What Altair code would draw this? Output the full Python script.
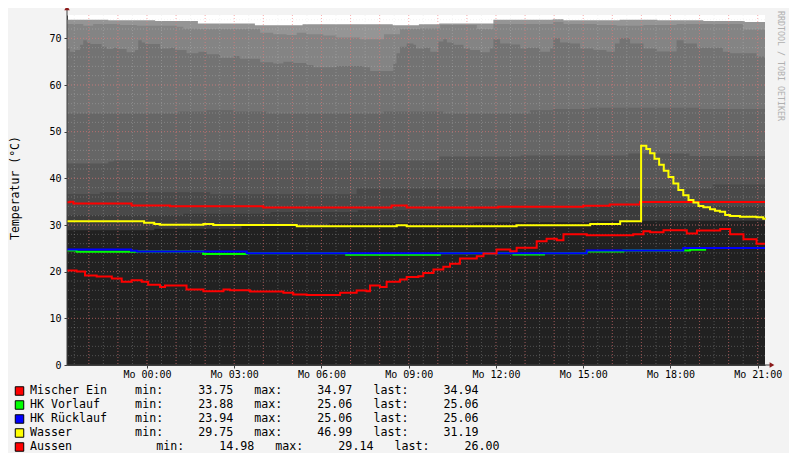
import altair as alt
import pandas as pd

# window: Sun 21:15 -> Mon 21:15 ; hours below are counted from the window start
START = -2.75  # window start relative to Mon 00:00 (hours)

# ---------------- lines (change points) ----------------
mischer_h = [0, 0.1, 0.22, 2.22, 3.54, 6.75, 11.16, 11.68, 14.83, 17.75, 18.66, 19.7, 24]
mischer_v = [34.88, 34.97, 34.6, 34.17, 34.03, 33.75, 34.17, 33.75, 33.9, 34.1, 34.4, 34.94, 34.94]

vor_h = [0, 0.33, 2.4, 4.68, 6.18, 9.6, 12.82, 15.35, 16.4, 17.87, 19.13, 21.42, 21.94, 24]
vor_v = [24.53, 24.25, 24.31, 23.81, 23.94, 23.6, 23.94, 23.7, 23.94, 24.3, 24.53, 24.67, 25.06, 25.06]

rueck_h = [0, 2.2, 2.4, 6.18, 17.87, 21.19, 24]
rueck_v = [24.75, 24.5, 24.31, 23.94, 24.53, 25.06, 25.06]

wasser_h = [0, 2.65, 3.0, 3.2, 4.69, 5.03, 7.9, 11.34, 11.68, 15.46, 17.99, 19.02,
            19.74, 19.92, 20.05, 20.2, 20.36, 20.52, 20.68, 20.85, 21.02, 21.19, 21.37,
            21.54, 21.71, 21.88, 22.11, 22.28, 22.45, 22.63, 22.8, 23.14, 23.71, 23.94, 24.0]
wasser_v = [30.8, 30.5, 30.2, 30.05, 30.2, 30.0, 29.75, 29.95, 29.75, 29.95, 30.2, 30.8,
            46.99, 46.3, 45.4, 44.2, 42.9, 41.6, 40.3, 38.9, 37.5, 36.4, 35.36,
            34.8, 34.07, 33.8, 33.35, 33.07, 32.85, 32.14, 31.93, 31.78, 31.64, 31.36, 31.19]

aussen_h = [0, 0.33, 0.62, 1.02, 1.54, 1.88, 2.22, 2.57, 2.79, 3.2,
            3.37, 4.11, 4.69, 5.38, 5.6, 6.29, 7.44, 7.78, 8.24, 9.39,
            9.96, 10.3, 10.42, 10.76, 10.99, 11.45, 11.68, 12.08, 12.25, 12.6,
            12.94, 13.17, 13.51, 14.09, 14.32, 14.77, 15.24, 15.46, 16.15, 16.49,
            16.84, 17.07, 17.87, 19.47, 19.82, 20.05, 20.51, 21.31, 21.66, 22.46,
            22.8, 23.26, 23.71, 24]
aussen_v = [20.24, 20.03, 19.17, 18.96, 18.53, 17.82, 18.17, 17.82, 17.17, 16.74,
            17.03, 16.17, 15.81, 16.17, 16.03, 15.74, 15.46, 15.1, 14.98, 15.46,
            15.96, 15.81, 17.03, 16.74, 17.82, 18.31, 18.88, 19.02, 19.74, 20.46,
            21.03, 21.67, 22.81, 23.31, 23.88, 24.74, 24.38, 25.1, 26.53, 27.03,
            26.75, 28.0, 27.8, 28.0, 28.67, 28.46, 28.88, 28.17, 28.81, 29.14,
            28.0, 26.96, 26.0, 26.0]

names = ["Mischer Ein", "HK Vorlauf", "HK Rücklauf", "Wasser", "Aussen"]
colors = ["#FF0000", "#00FF00", "#0000FF", "#FFFF00", "#FF0000"]
mins = [33.75, 23.88, 23.94, 29.75, 14.98]
maxs = [34.97, 25.06, 25.06, 46.99, 29.14]
lasts = [34.94, 25.06, 25.06, 31.19, 26.00]
name_pad = [15, 15, 15, 15, 18]

# ---------------- gray background bands (tops, from highest to lowest) ----------------
b1_h = [0, 1.42, 3.03, 4.5, 6.46, 8.1, 11.2, 12.1, 12.8, 14.66, 16.7, 17.07, 19.0, 20.3, 21.88, 23.3, 24]
b1_v = [74.0, 73.9, 73.7, 73.2, 72.8, 73.0, 72.8, 73.0, 73.2, 74.0, 74.1, 73.9, 74.0, 73.9, 73.7, 73.5, 73.5]

b2_h = [0, 0.56, 0.9, 1.82, 2.4, 3.77, 4.0, 4.52, 6.64, 7.09, 7.55, 7.9, 8.24, 8.81, 9.27,
        10.07, 10.9, 11.45, 12.14, 12.83, 14.09, 14.66, 16.72, 17.07, 18.21, 18.9, 19.82, 20.96, 23.25, 24]
b2_v = [73.07, 72.7, 73.07, 72.85, 72.7, 72.5, 72.07, 72.0, 71.2, 70.9, 70.7, 71.2, 70.9, 70.6, 70.2,
        69.8, 70.9, 72.0, 72.1, 72.85, 72.0, 73.07, 73.5, 73.07, 72.85, 72.7, 72.85, 73.07, 71.9, 71.9]

b3_h = [0, 0.1, 0.28, 0.45, 0.56, 0.68, 0.8, 1.19, 1.36, 1.59,
        1.76, 2.05, 2.34, 2.45, 2.57, 2.68, 3.2, 3.54, 3.71, 4.11,
        4.52, 4.8, 5.26, 5.72, 5.95, 6.64, 7.09, 7.44, 7.78, 8.24,
        8.47, 9.27, 10.19, 10.42, 11.22, 11.33, 11.45, 11.68, 11.91, 12.0,
        12.25, 12.49, 12.77, 12.94, 13.06, 13.29, 13.63, 13.86, 14.2, 14.54,
        14.66, 14.89, 15.23, 15.58, 15.81, 16.27, 16.61, 16.72, 16.95, 17.3,
        17.64, 18.1, 18.55, 18.84, 19.0, 19.36, 19.82, 20.28, 20.96, 21.2,
        21.66, 22.55, 22.8, 23.71, 24]
b3_v = [67.8, 67.1, 67.5, 68.6, 69.6, 69.1, 68.8, 68.2, 67.7, 68.0,
        67.7, 67.0, 67.5, 69.6, 69.1, 68.8, 67.8, 68.0, 67.5, 66.8,
        67.1, 66.6, 65.85, 66.2, 65.6, 64.9, 64.6, 65.0, 64.7, 64.3,
        63.8, 64.07, 63.8, 63.0, 64.6, 66.8, 68.2, 68.9, 68.6, 67.8,
        68.0, 67.1, 69.3, 69.8, 69.1, 68.6, 67.8, 67.5, 67.0, 67.8,
        69.8, 68.9, 68.7, 67.8, 68.0, 67.1, 67.8, 70.0, 69.1, 68.9,
        67.8, 67.5, 67.1, 68.9, 70.0, 68.9, 67.8, 67.2, 69.6, 68.9,
        68.0, 67.1, 66.8, 66.1, 66.1]

b4_h = [0, 3.83, 4.8, 5.72, 6.87, 10.88, 12.94, 15.92, 16.72, 17.98, 21.77, 24]
b4_v = [53.9, 54.3, 54.6, 54.3, 53.9, 54.3, 53.9, 54.6, 54.85, 55.1, 54.85, 54.85]

b5_h = [0, 1.42, 1.6, 12.8, 15.6, 19.3, 21.4, 24]
b5_v = [43.2, 43.6, 43.8, 44.7, 44.9, 45.3, 44.8, 44.8]

b6_h = [0, 1.13, 4.92, 9.96, 22.2, 24]
b6_v = [36.64, 37.0, 36.6, 37.8, 38.7, 38.7]

b7_h = [0, 4, 7, 10, 14, 18, 24]
b7_v = [32.1, 32.4, 32.8, 33.2, 33.5, 34.0, 34.0]

b8_h = [0, 3, 6, 9, 14, 18, 24]
b8_v = [28.9, 29.2, 29.8, 30.4, 30.6, 30.9, 30.9]

band_colors = ["#959595", "#848484", "#737373", "#666666", "#575757", "#4a4a4a", "#3c3c3c", "#212121"]

# grid positions (hours relative to Mon 00:00, and degrees)
minor_x = [k * 0.5 for k in range(-5, 43)]
major_x = list(range(-2, 22))
minor_y = list(range(2, 76, 2))
major_y = list(range(10, 80, 10))
tick_hours = [0, 3, 6, 9, 12, 15, 18, 21]
tick_deg = [0, 10, 20, 30, 40, 50, 60, 70]

MONO = "DejaVu Sans Mono"
W, H = 698, 350


def frame(h, v):
    return pd.DataFrame({"t": [x + START for x in h], "v": v})


xax = alt.Axis(values=tick_hours,
               labelExpr="'Mo ' + (datum.value < 10 ? '0' : '') + datum.value + ':00'",
               grid=False, domainColor="#404040", tickColor="#404040", tickSize=3,
               labelPadding=1, labelFont=MONO, labelFontSize=10, labelColor="#000000",
               labelFlush=False, labelOverlap=False, title=None)
yax = alt.Axis(values=tick_deg, grid=False, domainColor="#404040", tickColor="#404040",
               tickSize=3, labelPadding=3, labelFont=MONO, labelFontSize=10,
               labelColor="#000000", labelFlush=False, labelOverlap=False, title=None)
X = alt.X("t:Q", scale=alt.Scale(domain=[START, START + 24], nice=False, zero=False), axis=xax)
Y = alt.Y("v:Q", scale=alt.Scale(domain=[0, 75], nice=False, zero=False), axis=yax)

layers = []
bands = [(b1_h, b1_v), (b2_h, b2_v), (b3_h, b3_v), (b4_h, b4_v),
         (b5_h, b5_v), (b6_h, b6_v), (b7_h, b7_v), (b8_h, b8_v)]
for (bh, bv), col in zip(bands, band_colors):
    layers.append(alt.Chart(frame(bh, bv)).mark_area(
        interpolate="step-after", color=col, opacity=1).encode(x=X, y=Y))

# grid
layers.append(alt.Chart(pd.DataFrame({"t": minor_x})).mark_rule(
    color="#d8d8d8", opacity=0.27, strokeDash=[1, 2], strokeWidth=1).encode(x=X))
layers.append(alt.Chart(pd.DataFrame({"v": minor_y})).mark_rule(
    color="#d8d8d8", opacity=0.27, strokeDash=[1, 2], strokeWidth=1).encode(y=Y))
layers.append(alt.Chart(pd.DataFrame({"t": major_x})).mark_rule(
    color="#ff5050", opacity=0.42, strokeDash=[1, 2], strokeWidth=1).encode(x=X))
layers.append(alt.Chart(pd.DataFrame({"v": major_y})).mark_rule(
    color="#ff5050", opacity=0.42, strokeDash=[1, 2], strokeWidth=1).encode(y=Y))

# data lines
series = [(mischer_h, mischer_v), (vor_h, vor_v), (rueck_h, rueck_v),
          (wasser_h, wasser_v), (aussen_h, aussen_v)]
for (sh, sv), col in zip(series, colors):
    layers.append(alt.Chart(frame(sh, sv)).mark_line(
        interpolate="step-after", color=col, strokeWidth=2).encode(x=X, y=Y))

dummy = pd.DataFrame({"d": [0]})

# axis extensions with arrows
layers.append(alt.Chart(dummy).mark_rule(color="#404040", strokeWidth=1).encode(
    x=alt.value(0), y=alt.value(-6), y2=alt.value(H)))
layers.append(alt.Chart(dummy).mark_rule(color="#404040", strokeWidth=1).encode(
    x=alt.value(0), x2=alt.value(W + 5), y=alt.value(H)))
layers.append(alt.Chart(dummy).mark_point(shape="triangle-up", filled=True, color="#8b1a1a",
                                          size=30, opacity=1).encode(
    x=alt.value(0), y=alt.value(-7)))
layers.append(alt.Chart(dummy).mark_point(shape="triangle-right", filled=True, color="#8b1a1a",
                                          size=30, opacity=1).encode(
    x=alt.value(W + 7), y=alt.value(H)))

# y title
layers.append(alt.Chart(dummy).mark_text(
    text="Temperatur (°C)", angle=270, font=MONO, fontSize=11.5, color="#000000",
    align="center", baseline="middle").encode(x=alt.value(-51), y=alt.value(173)))

# watermark
layers.append(alt.Chart(dummy).mark_text(
    text="RRDTOOL / TOBI OETIKER", angle=90, font=MONO, fontSize=8.3, color="#b0b0b0",
    align="left", baseline="middle").encode(x=alt.value(W + 15), y=alt.value(-4)))

# legend
NB = "\u00a0"
for i in range(len(names)):
    row = (f"{names[i]:<{name_pad[i]}}min:{mins[i]:10.2f}   max:{maxs[i]:10.2f}"
           f"   last:{lasts[i]:10.2f}").replace(" ", NB)
    ypix = 376 + 14 * i
    layers.append(alt.Chart(dummy).mark_square(
        size=72, fill=colors[i], stroke="#000000", strokeWidth=1, opacity=1).encode(
        x=alt.value(-47.5), y=alt.value(ypix)))
    layers.append(alt.Chart(dummy).mark_text(
        text=row, font=MONO, fontSize=11.65, color="#000000", align="left",
        baseline="middle").encode(x=alt.value(-37), y=alt.value(ypix)))

chart = alt.layer(*layers).properties(
    width=W, height=H,
    padding={"left": 59, "top": 7, "right": 24, "bottom": 88},
    autosize=alt.AutoSizeParams(type="none"),
    background="#f3f3f3",
).configure_view(fill="#ffffff", strokeWidth=0)

chart.save("out.html", embed_options={"renderer": "svg", "actions": False})
